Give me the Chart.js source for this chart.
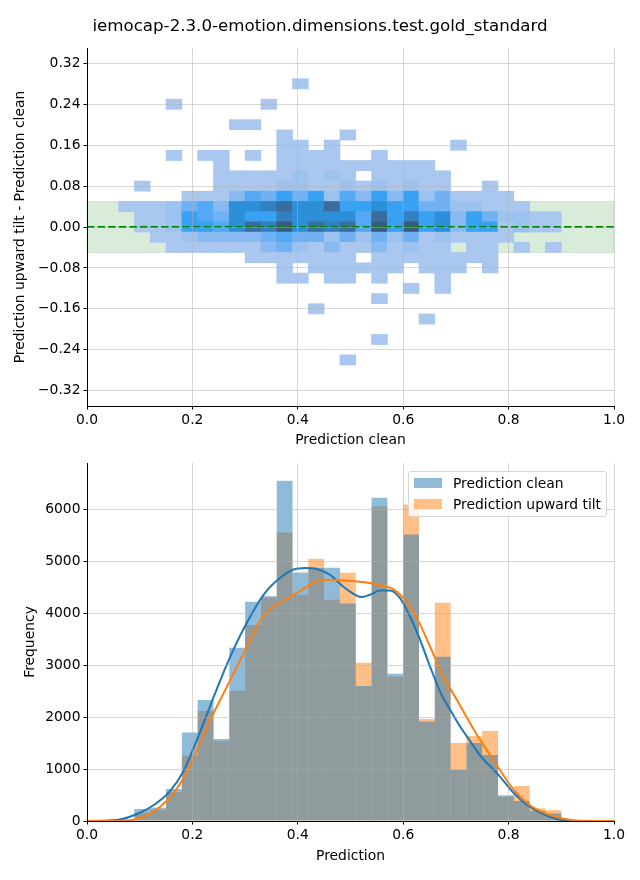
<!DOCTYPE html>
<html><head><meta charset="utf-8">
<script src="https://cdn.jsdelivr.net/npm/chart.js@4"></script>
<style>
html,body{margin:0;padding:0;background:#fff;}
#wrap{position:relative;width:640px;height:880px;font-family:"DejaVu Sans",sans-serif;color:#000;}
#title{position:absolute;left:0;top:15px;width:640px;text-align:center;font-size:16.67px;line-height:22px;}
#c1{position:absolute;left:0;top:0;}
#c2{position:absolute;left:0;top:450px;}
#legend{position:absolute;left:408px;top:471px;width:199px;height:46px;border:1px solid #d6d6d6;border-radius:3px;background:rgba(255,255,255,0.8);box-sizing:border-box;font-size:13.89px;}
.sw{position:absolute;left:5px;width:28px;height:10px;}
.lt{position:absolute;left:44px;height:18px;line-height:18px;white-space:nowrap;}
</style></head>
<body>
<div id="wrap">
<canvas id="c1" width="640" height="450"></canvas>
<canvas id="c2" width="640" height="430"></canvas>
<div id="title">iemocap-2.3.0-emotion.dimensions.test.gold_standard</div>
<div id="legend">
  <div class="sw" style="top:6px;background:rgba(31,119,180,0.5)"></div>
  <div class="lt" style="top:2px">Prediction clean</div>
  <div class="sw" style="top:27px;background:rgba(255,127,14,0.5)"></div>
  <div class="lt" style="top:23px">Prediction upward tilt</div>
</div>
</div>
<script>
// ---------------- data ----------------
const binCenters = [0.075,0.105,0.135,0.165,0.195,0.225,0.255,0.285,0.315,0.345,0.375,0.405,0.435,0.465,0.495,0.525,0.555,0.585,0.615,0.645,0.675,0.705,0.735,0.765,0.795,0.825,0.855,0.885];
const rowCenters = [0.28,0.24,0.20,0.18,0.16,0.14,0.12,0.10,0.08,0.06,0.04,0.02,0.00,-0.02,-0.04,-0.06,-0.08,-0.10,-0.12,-0.14,-0.16,-0.18,-0.22,-0.26];
const rowBinHeight = 0.02;
// density level per cell (row x column)
const heatCounts = [
 [0,0,0,0,0,0,0,0,0,0,0,1,0,0,0,0,0,0,0,0,0,0,0,0,0,0,0,0],
 [0,0,0,1,0,0,0,0,0,1,0,0,0,0,0,0,0,0,0,0,0,0,0,0,0,0,0,0],
 [0,0,0,0,0,0,0,1,1,0,0,0,0,0,0,0,0,0,0,0,0,0,0,0,0,0,0,0],
 [0,0,0,0,0,0,0,0,0,0,1,0,0,0,1,0,0,0,0,0,0,0,0,0,0,0,0,0],
 [0,0,0,0,0,0,0,0,0,0,1,1,0,1,0,0,0,0,0,0,0,1,0,0,0,0,0,0],
 [0,0,0,1,0,1,1,0,1,0,1,1,1,1,0,0,1,0,0,0,0,0,0,0,0,0,0,0],
 [0,0,0,0,0,0,1,0,0,0,1,1,1,1,1,1,1,1,1,1,0,0,0,0,0,0,0,0],
 [0,0,0,0,0,0,1,1,1,1,1,2,1,2,1,0,1,1,1,1,1,0,0,0,0,0,0,0],
 [0,1,0,0,0,0,1,1,1,1,2,2,1,1,2,1,2,1,2,1,1,0,0,1,0,0,0,0],
 [0,0,0,0,1,1,1,3,5,4,6,4,6,2,5,3,6,3,6,2,4,1,1,1,1,0,0,0],
 [1,1,1,2,4,5,3,7,7,8,9,7,7,9,6,6,7,6,6,4,4,2,2,1,1,1,0,0],
 [0,1,1,2,6,5,4,7,6,6,8,7,7,7,7,5,9,6,8,6,7,3,6,4,2,2,1,1],
 [0,1,1,2,6,6,5,7,9,8,10,7,9,8,9,5,10,6,10,6,7,3,6,6,1,2,1,1],
 [0,0,1,1,2,3,3,3,3,4,5,4,4,2,4,2,4,2,4,1,2,1,1,1,1,0,0,0],
 [0,0,0,1,1,1,1,1,1,3,4,2,1,3,1,1,3,1,2,1,1,0,1,1,0,1,0,1],
 [0,0,0,0,0,0,0,0,1,1,1,1,1,1,1,0,1,1,1,1,1,1,1,1,0,0,0,0],
 [0,0,0,0,0,0,0,0,0,0,1,0,1,1,1,1,1,1,0,1,1,1,0,1,0,0,0,0],
 [0,0,0,0,0,0,0,0,0,0,1,1,0,1,1,0,1,0,0,0,1,0,0,0,0,0,0,0],
 [0,0,0,0,0,0,0,0,0,0,0,0,0,0,0,0,0,0,1,0,1,0,0,0,0,0,0,0],
 [0,0,0,0,0,0,0,0,0,0,0,0,0,0,0,0,1,0,0,0,0,0,0,0,0,0,0,0],
 [0,0,0,0,0,0,0,0,0,0,0,0,1,0,0,0,0,0,0,0,0,0,0,0,0,0,0,0],
 [0,0,0,0,0,0,0,0,0,0,0,0,0,0,0,0,0,0,0,1,0,0,0,0,0,0,0,0],
 [0,0,0,0,0,0,0,0,0,0,0,0,0,0,0,0,1,0,0,0,0,0,0,0,0,0,0,0],
 [0,0,0,0,0,0,0,0,0,0,0,0,0,0,1,0,0,0,0,0,0,0,0,0,0,0,0,0]
];
const bandRange = [-0.05, 0.05];
const zeroLine = [{x:0,y:0},{x:1,y:0}];

const cleanCounts = [30,231,257,617,1704,2334,1582,3340,4225,4330,6560,4790,4875,4880,4190,2600,6230,2836,5520,1916,3164,985,1505,1273,495,385,200,145];
const tiltCounts  = [15,161,212,553,1260,2122,1543,2510,3780,4310,5560,4360,5055,4265,4785,3050,6060,2784,6100,1968,4206,1505,1640,1736,470,675,245,210];

const kdeCleanX = [0,0.057,0.095,0.127,0.158,0.183,0.202,0.221,0.243,0.271,0.30,0.335,0.366,0.391,0.414,0.436,0.461,0.486,0.509,0.521,0.537,0.556,0.575,0.594,0.613,0.632,0.651,0.67,0.689,0.708,0.727,0.746,0.78,0.81,0.84,0.87,0.90,0.935,1.0];
const kdeCleanY = [0,20,135,309,580,960,1400,1880,2460,3150,3760,4360,4682,4843,4875,4856,4746,4520,4360,4315,4360,4444,4444,4296,3942,3492,2977,2495,2142,1820,1540,1260,900,534,276,116,20,0,0];
const kdeTiltX  = [0,0.076,0.114,0.139,0.164,0.19,0.209,0.228,0.259,0.284,0.303,0.328,0.347,0.379,0.404,0.423,0.442,0.461,0.486,0.512,0.537,0.556,0.581,0.60,0.626,0.651,0.676,0.702,0.727,0.746,0.771,0.81,0.84,0.87,0.90,0.935,1.0];
const kdeTiltY  = [0,6,116,276,534,951,1370,1820,2460,2960,3350,3850,4080,4280,4430,4553,4636,4650,4636,4617,4586,4540,4470,4296,3910,3363,2784,2334,1885,1563,1177,598,309,148,52,5,0];

const xTicks = [0,0.2,0.4,0.6,0.8,1.0];
const xTickLabels = ['0.0','0.2','0.4','0.6','0.8','1.0'];
const topYTicks = [-0.32,-0.24,-0.16,-0.08,0,0.08,0.16,0.24,0.32];
const topYTickLabels = ['\u22120.32','\u22120.24','\u22120.16','\u22120.08','0.00','0.08','0.16','0.24','0.32'];
const freqTicks = [0,1000,2000,3000,4000,5000,6000];
const freqTickLabels = ['0','1000','2000','3000','4000','5000','6000'];

// ---------------- styles ----------------
const heatPalette = [null,'#aac8ef','#9cc2f0','#89b9f1','#70b1f3','#55a9f4','#38a1f2','#2c8fd8','#327fc1','#3a6c9d','#3b5a80'];

Chart.defaults.font.family = '"DejaVu Sans", sans-serif';
Chart.defaults.font.size = 13.89;
Chart.defaults.color = '#000';
Chart.defaults.animation = false;

const gridCommon = {color:'rgba(176,176,176,0.5)', lineWidth:1, z:1, tickColor:'#000', tickLength:3.5, tickWidth:1, offset:false};
const borderCommon = {display:true, color:'#000', width:1, z:2};

function xScale(title, axisH, padB){
  return {type:'linear', min:0, max:1, offset:false,
    afterBuildTicks: s => { s.ticks = xTicks.map(v => ({value:v})); },
    afterFit: s => { s.height = axisH; },
    ticks:{callback:(v,i)=>xTickLabels[i], padding:3, maxRotation:0, autoSkip:false},
    grid:gridCommon, border:borderCommon,
    title:{display:true, text:title, padding:{top:0,bottom:padB}}};
}
function yScale(title, min, max, ticks, labels, padT){
  return {type:'linear', min:min, max:max,
    afterBuildTicks: s => { s.ticks = ticks.map(v => ({value:v})); },
    afterFit: s => { s.width = 87; },
    ticks:{callback:(v,i)=>labels[i], padding:3, autoSkip:false},
    grid:gridCommon, border:borderCommon,
    title:{display:true, text:title, padding:{top:padT,bottom:0}}};
}

const bandPlugin = {
  id:'band',
  beforeDatasetsDraw(chart){
    const {ctx, scales:{x,y}} = chart;
    const l = x.getPixelForValue(0), r = x.getPixelForValue(1);
    const t = y.getPixelForValue(bandRange[1]), b = y.getPixelForValue(bandRange[0]);
    ctx.save();
    ctx.fillStyle = 'rgba(0,128,0,0.15)';
    ctx.fillRect(l, t, r-l, b-t);
    ctx.strokeStyle = 'rgba(0,128,0,0.12)';
    ctx.lineWidth = 1;
    ctx.strokeRect(l, t, r-l, b-t);
    ctx.restore();
  }
};

// ---------------- top chart ----------------
const heatCells = [];
rowCenters.forEach((yc, r) => heatCounts[r].forEach((n, c) => {
  if (n > 0) heatCells.push({x:binCenters[c], y:[yc-rowBinHeight/2, yc+rowBinHeight/2], n:n});
}));

new Chart(document.getElementById('c1'), {
  type:'bar',
  data:{datasets:[
    {type:'bar', data:heatCells, backgroundColor:ctx => (ctx.raw ? heatPalette[ctx.raw.n] : '#000'),
     borderWidth:0, barPercentage:1, categoryPercentage:1, grouped:false, order:2},
    {type:'line', data:zeroLine, borderColor:'#008000', borderWidth:2, borderDash:[7.4,3.2],
     pointRadius:0, fill:false, order:0}
  ]},
  options:{responsive:false, animation:false, events:[],
    layout:{padding:{top:48,right:26,left:0,bottom:0}},
    plugins:{legend:{display:false}, tooltip:{enabled:false}},
    scales:{
      x:xScale('Prediction clean', 44, 1),
      y:yScale('Prediction upward tilt - Prediction clean', -0.35, 0.35, topYTicks, topYTickLabels, 12)
    }},
  plugins:[bandPlugin]
});

// ---------------- bottom chart ----------------
new Chart(document.getElementById('c2'), {
  type:'bar',
  data:{datasets:[
    {type:'bar', label:'Prediction clean', data:binCenters.map((x,i)=>({x:x,y:cleanCounts[i]})),
     backgroundColor:'rgba(31,119,180,0.5)', borderWidth:0, barPercentage:1, categoryPercentage:1,
     grouped:false, inflateAmount:0, order:2},
    {type:'bar', label:'Prediction upward tilt', data:binCenters.map((x,i)=>({x:x,y:tiltCounts[i]})),
     backgroundColor:'rgba(255,127,14,0.5)', borderWidth:0, barPercentage:1, categoryPercentage:1,
     grouped:false, inflateAmount:0, order:3},
    {type:'line', data:kdeCleanX.map((x,i)=>({x:x,y:kdeCleanY[i]})), borderColor:'#1f77b4', borderWidth:2,
     pointRadius:0, cubicInterpolationMode:'monotone', fill:false, order:1},
    {type:'line', data:kdeTiltX.map((x,i)=>({x:x,y:kdeTiltY[i]})), borderColor:'#ff7f0e', borderWidth:2,
     pointRadius:0, cubicInterpolationMode:'monotone', fill:false, order:0}
  ]},
  options:{responsive:false, animation:false, events:[],
    layout:{padding:{top:13,right:26,left:0,bottom:0}},
    plugins:{legend:{display:false}, tooltip:{enabled:false}},
    scales:{
      x:xScale('Prediction', 59, 15),
      y:yScale('Frequency', 0, 6900, freqTicks, freqTickLabels, 22)
    }}
});
</script>
</body></html>
